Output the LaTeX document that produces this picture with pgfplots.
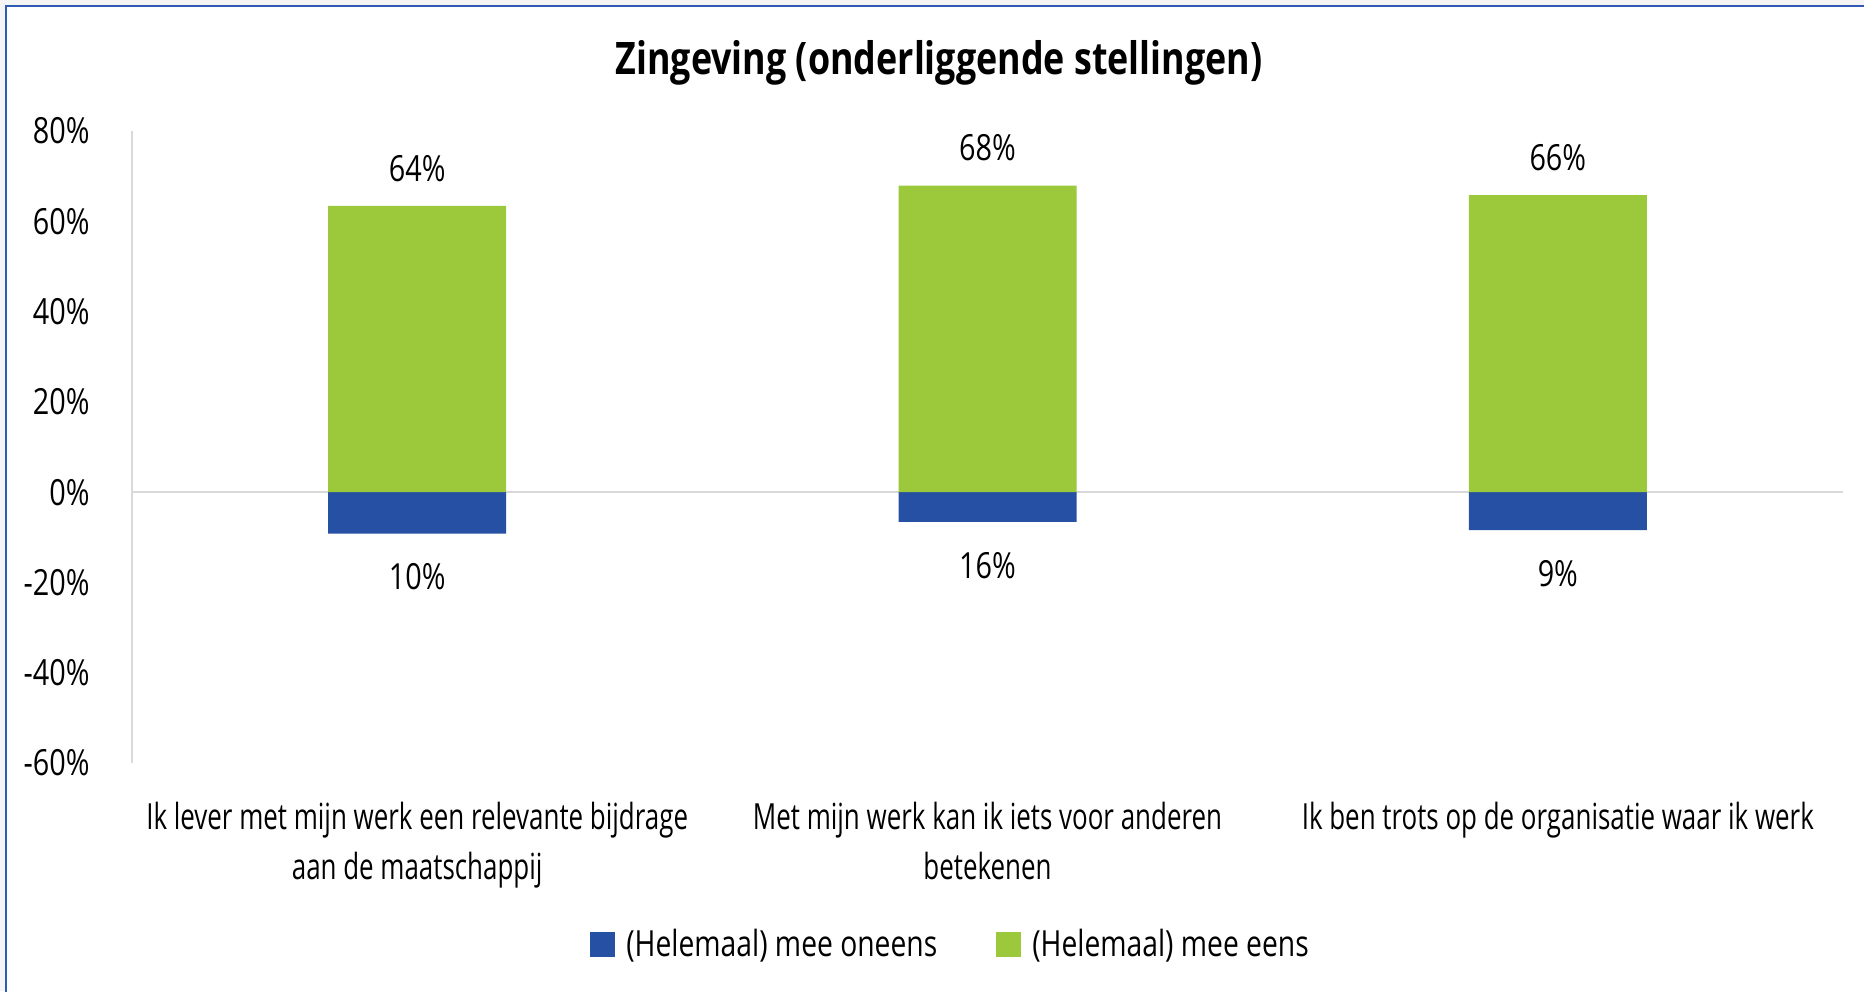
\documentclass[border=0pt]{standalone}
\usepackage{fontspec}
\setmainfont{Open Sans}[FakeStretch=0.8]
\newfontfamily\catfont{Open Sans}[FakeStretch=0.72]
\newfontfamily\legfont{Open Sans}[FakeStretch=0.785]
\usepackage{pgfplots}
\pgfplotsset{compat=1.18}
\definecolor{cblue}{RGB}{37,80,163}
\definecolor{cgreen}{RGB}{155,201,59}
\definecolor{frameblue}{RGB}{50,90,180}
\begin{document}
\begin{tikzpicture}
\useasboundingbox (-66pt,-114pt) rectangle (866pt,381.5pt);
\fill[gray!8] (-66pt,-114pt) rectangle (866pt,381.5pt);
\fill[white] (-63pt,-120pt) rectangle (870pt,378.5pt);
\draw[frameblue, line width=1pt] (-63pt,-120pt) -- (-63pt,378.5pt) -- (870pt,378.5pt);
\node[font=\fontsize{22.4}{26}\selectfont\bfseries, anchor=base] at (403.5pt,344pt) {Zingeving (onderliggende stellingen)};
\begin{axis}[
  at={(0pt,0pt)}, anchor=south west,
  width=855.5pt, height=316pt, scale only axis,
  xmin=-0.5, xmax=2.5, ymin=-60, ymax=80,
  ytick={-60,-40,-20,0,20,40,60,80},
  yticklabel={\pgfmathprintnumber{\tick}\%},
  xtick={0,1,2},
  xticklabels={{Ik lever met mijn werk een relevante bijdrage\\aan de maatschappij},{Met mijn werk kan ik iets voor anderen\\betekenen},{Ik ben trots op de organisatie waar ik werk}},
  axis lines=left,
  x axis line style={draw=none},
  y axis line style={draw=black!15, line width=1pt, -},
  major tick length=0pt,
  tick label style={font=\fontsize{18}{25}\selectfont, text=black},
  yticklabel style={anchor=east, inner sep=0pt, xshift=-21pt},
  xticklabel style={anchor=north, inner sep=0pt, yshift=-19.5pt, align=center, font=\catfont\fontsize{18}{25}\selectfont},
  /pgf/number format/assume math mode=true,
  ybar, bar width=89pt, bar shift=0pt,
  nodes near coords,
  point meta=explicit symbolic,
  nodes near coords style={font=\fontsize{18}{22}\selectfont, text=black, inner sep=0pt},
  legend columns=2,
  legend style={at={(0.4790,-0.2864)}, anchor=center, draw=none, fill=none,
    font=\legfont\fontsize{18}{22}\selectfont,
    /tikz/every odd column/.append style={column sep=3.5pt},
    /tikz/every even column/.append style={column sep=27.5pt}},
  legend cell align=left,
  legend image code/.code={\fill[#1] (0pt,-6.25pt) rectangle (12.5pt,6.25pt);},
  clip=false,
]
\draw[black!15, line width=1pt] (axis cs:-0.5,0) -- (axis cs:2.5,0);
\addplot[fill=cblue, draw=none, every node near coord/.append style={anchor=north, yshift=-14.8pt}] coordinates {(0,-9.2) [10\%] (1,-6.6) [16\%] (2,-8.4) [9\%]};
\addlegendentry{(Helemaal) mee oneens}
\addplot[fill=cgreen, draw=none, every node near coord/.append style={anchor=south, yshift=12pt}] coordinates {(0,63.4) [64\%] (1,67.9) [68\%] (2,65.8) [66\%]};
\addlegendentry{(Helemaal) mee eens}
\end{axis}
\end{tikzpicture}
\end{document}
